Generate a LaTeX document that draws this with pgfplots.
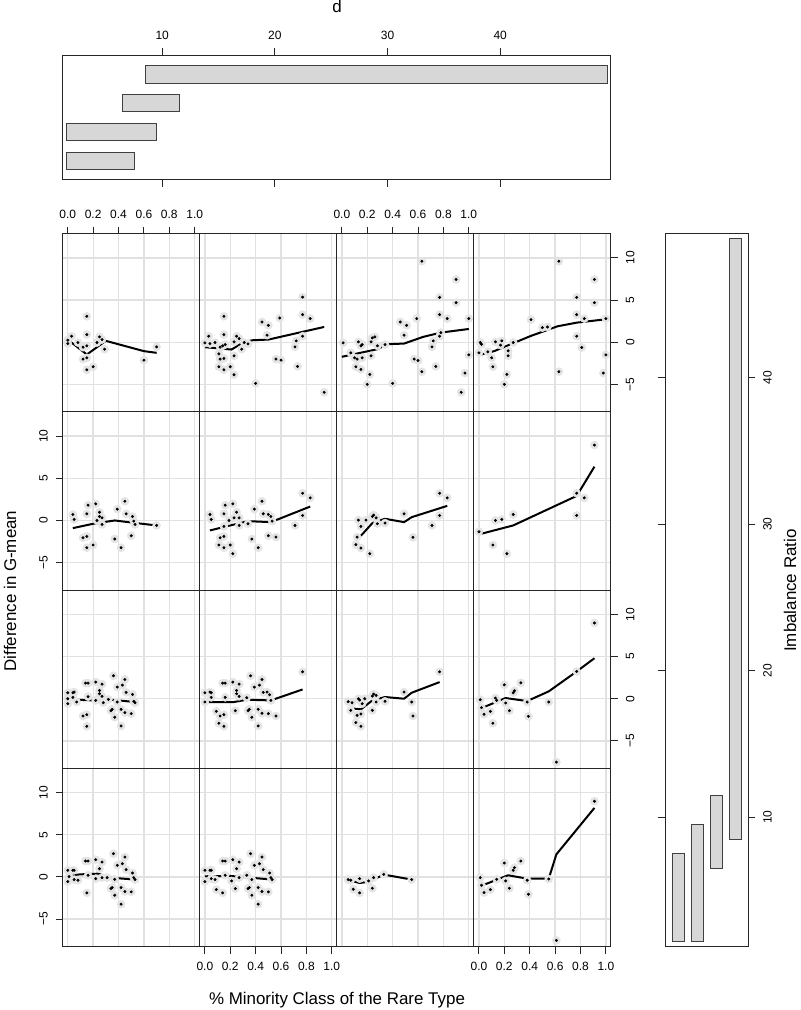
\documentclass[border=0pt]{standalone}
\usepackage{fontspec}
\setmainfont{Liberation Sans}
\usepackage{pgfplots}
\usepackage{pgfplotstable}
\pgfplotsset{compat=1.18}

\definecolor{barfill}{RGB}{215,215,215}
\definecolor{halo}{RGB}{228,228,228}
\definecolor{gridc}{RGB}{225,225,225}

% points, rows A (top) to D (bottom), columns a (left) to d (right)
\pgfplotstableread{
x y
0.03 0.71
0.00 0.24
0.00 -0.16
0.08 -0.04
0.12 -0.59
0.15 3.07
0.15 0.90
0.15 -0.43
0.12 -2.00
0.15 -1.85
0.15 -3.27
0.20 -2.91
0.23 -0.04
0.25 0.63
0.27 0.31
0.29 -0.83
0.60 -2.13
0.70 -0.55
}\pAa
\pgfplotstableread{
x y
0 0.31
0.15 -1.46
0.30 0.16
0.60 -1.06
0.70 -1.26
}\lAa
\pgfplotstableread{
x y
0.00 -0.08
0.03 0.71
0.08 -0.04
0.04 -0.16
0.15 3.07
0.15 0.90
0.12 -0.59
0.14 -0.43
0.16 -0.28
0.11 -1.38
0.12 -2.00
0.15 -1.93
0.11 -2.91
0.15 -3.27
0.20 -2.91
0.23 -3.86
0.23 -1.61
0.25 0.71
0.27 0.43
0.23 0.04
0.29 -0.83
0.31 -0.04
0.34 -0.20
0.40 -4.88
0.45 2.40
0.50 2.00
0.49 0.83
0.59 2.87
0.56 -2.00
0.60 -2.13
0.71 -0.55
0.72 0.16
0.77 5.35
0.77 3.27
0.77 0.71
0.83 2.80
0.73 -2.87
0.94 -5.94
}\pAb
\pgfplotstableread{
x y
0 -0.59
0.21 -0.87
0.31 0.04
0.38 0.24
0.50 0.31
0.94 1.81
}\lAb
\pgfplotstableread{
x y
0.01 -0.08
0.07 -1.26
0.10 -1.85
0.12 -2.00
0.11 -2.91
0.13 0.04
0.15 -0.43
0.16 -0.28
0.15 -3.23
0.16 -1.85
0.22 -3.82
0.20 -5.00
0.23 -1.61
0.23 0.04
0.24 0.51
0.26 0.63
0.28 -0.43
0.34 -0.28
0.40 -4.88
0.46 2.40
0.51 2.00
0.49 0.83
0.59 2.80
0.63 9.60
0.57 -2.00
0.60 -2.17
0.63 -3.50
0.71 -0.55
0.72 0.16
0.77 5.31
0.77 3.27
0.77 0.71
0.78 1.14
0.83 2.80
0.74 -2.87
0.90 7.44
0.90 4.69
0.94 -5.94
0.97 -3.66
1.00 2.80
1.00 -1.50
}\pAc
\pgfplotstableread{
x y
0 -1.73
0.12 -1.34
0.28 -0.83
0.36 -0.24
0.49 -0.16
0.64 0.63
0.78 1.14
1.00 1.57
}\lAc
\pgfplotstableread{
x y
0.01 -0.04
0.02 -0.24
0.00 -1.26
0.07 -1.14
0.10 -1.85
0.11 -2.91
0.13 0.04
0.18 0.16
0.17 -0.35
0.23 -1.02
0.23 -1.61
0.22 -3.82
0.20 -5.00
0.27 -0.04
0.41 2.68
0.50 1.73
0.54 1.81
0.63 9.60
0.63 -3.50
0.77 5.31
0.77 3.27
0.77 0.71
0.81 -0.63
0.83 2.80
0.91 7.44
0.91 4.69
0.98 -3.66
1.00 2.80
1.00 -1.50
}\pAd
\pgfplotstableread{
x y
0 -1.54
0.12 -1.06
0.25 -0.24
0.41 0.75
0.62 1.89
0.77 2.32
1.00 2.72
}\lAd
\pgfplotstableread{
x y
0.04 0.71
0.05 0.12
0.12 -2.05
0.15 -1.89
0.16 1.81
0.15 0.79
0.15 -3.23
0.20 -2.91
0.22 1.97
0.23 0
0.25 0.98
0.25 0.47
0.27 0.31
0.27 -0.47
0.37 -2.20
0.39 1.34
0.42 -3.23
0.45 2.28
0.46 0.79
0.50 -1.81
0.51 0.47
0.52 -0.08
0.53 -0.47
0.70 -0.59
}\pBa
\pgfplotstableread{
x y
0.04 -0.91
0.20 -0.39
0.37 0
0.52 -0.28
0.70 -0.59
}\lBa
\pgfplotstableread{
x y
0.04 0.71
0.05 0.12
0.12 -2.05
0.15 -1.89
0.16 1.81
0.15 0.79
0.15 -3.23
0.11 -2.91
0.20 -2.91
0.22 -3.94
0.22 1.97
0.19 0
0.25 0.98
0.23 0.31
0.27 0.31
0.15 -0.71
0.27 -0.59
0.34 -0.39
0.37 -2.20
0.39 1.34
0.42 -3.23
0.45 2.28
0.46 0.79
0.50 -1.81
0.50 0.71
0.52 0.47
0.53 -0.08
0.56 -1.97
0.71 -0.59
0.77 3.23
0.83 2.68
0.77 0.59
}\pBb
\pgfplotstableread{
x y
0.04 -1.18
0.20 -0.59
0.34 -0.08
0.52 -0.20
0.83 1.65
}\lBb
\pgfplotstableread{
x y
0.11 -2.87
0.13 0.04
0.15 -0.71
0.15 -3.27
0.12 -1.97
0.19 0.04
0.22 -3.94
0.24 0.47
0.25 0.63
0.27 0.31
0.28 -0.39
0.34 -0.31
0.49 0.79
0.56 -2.00
0.71 -0.59
0.77 3.23
0.83 2.68
0.77 0.59
}\pBc
\pgfplotstableread{
x y
0.11 -2.28
0.16 -1.65
0.24 -0.31
0.34 0.20
0.49 -0.20
0.55 0.39
0.83 1.73
}\lBc
\pgfplotstableread{
x y
0.00 -1.34
0.11 -2.91
0.13 0
0.18 0.12
0.22 -3.94
0.27 0.71
0.77 3.23
0.83 2.68
0.77 0.59
0.91 8.94
}\pBd
\pgfplotstableread{
x y
0 -1.65
0.27 -0.59
0.77 2.91
0.91 6.38
}\lBd
\pgfplotstableread{
x y
0.00 0.71
0.04 0.71
0.05 0.79
0.00 0
0.00 -0.59
0.04 0.16
0.07 -0.39
0.12 -2.05
0.15 -1.89
0.15 -3.27
0.14 1.85
0.16 1.85
0.16 0.24
0.22 1.97
0.22 -0.20
0.25 0.98
0.25 0.59
0.27 1.73
0.27 0.28
0.28 -0.47
0.32 -0.08
0.34 -1.42
0.35 -1.26
0.36 2.72
0.37 -2.20
0.39 -0.39
0.39 1.38
0.42 -3.23
0.42 -1.26
0.43 1.61
0.45 2.28
0.45 -1.65
0.46 0.75
0.50 -1.77
0.51 0.51
0.52 -0.31
0.53 -0.47
}\pCa
\pgfplotstableread{
x y
0 -0.08
0.20 -0.20
0.31 -0.08
0.53 -0.39
}\lCa
\pgfplotstableread{
x y
0.00 0.71
0.04 0.79
0.05 0.71
0.00 -0.39
0.05 0.16
0.09 -1.50
0.12 -2.05
0.15 -1.89
0.11 -2.91
0.15 -3.27
0.14 1.85
0.16 1.85
0.16 0.16
0.22 1.97
0.24 -1.42
0.25 0.98
0.25 0.59
0.27 1.73
0.27 0.28
0.33 0.12
0.34 -1.42
0.35 -1.26
0.36 2.72
0.37 -2.20
0.39 1.38
0.42 -3.23
0.42 -1.26
0.43 1.61
0.45 2.28
0.45 -1.73
0.46 0.75
0.50 -1.77
0.49 0.79
0.51 0.47
0.52 -0.20
0.56 -2.05
0.77 3.19
}\pCb
\pgfplotstableread{
x y
0 -0.39
0.23 -0.39
0.33 -0.12
0.52 -0.20
0.77 1.10
}\lCb
\pgfplotstableread{
x y
0.05 -0.35
0.08 -0.47
0.13 0
0.14 -0.16
0.16 -0.59
0.18 0
0.07 -1.38
0.12 -1.97
0.15 -1.81
0.11 -2.83
0.15 -3.27
0.24 0.31
0.25 0.55
0.27 0.39
0.27 -0.39
0.24 -1.38
0.34 -0.31
0.49 0.79
0.55 -0.39
0.56 -2.05
0.77 3.19
}\pCc
\pgfplotstableread{
x y
0.05 -1.10
0.15 -1.26
0.24 -0.20
0.34 0.20
0.49 0
0.55 0.71
0.77 1.97
}\lCc
\pgfplotstableread{
x y
0.01 -0.12
0.02 -1.06
0.04 -1.85
0.09 -1.50
0.11 -2.91
0.13 0.08
0.14 -0.20
0.20 1.65
0.21 -0.51
0.24 -1.42
0.27 0.71
0.28 0.94
0.33 1.89
0.38 -0.39
0.39 -2.09
0.55 -0.39
0.61 -7.52
0.77 3.23
0.91 8.98
}\pCd
\pgfplotstableread{
x y
0.01 -1.18
0.21 0.08
0.38 -0.28
0.55 0.87
0.77 3.23
0.91 4.80
}\lCd
\pgfplotstableread{
x y
0.00 0.79
0.00 -0.55
0.04 0.79
0.05 0.79
0.01 0.04
0.05 -0.31
0.08 -0.39
0.14 1.89
0.16 1.89
0.15 -1.89
0.16 0.20
0.22 2.05
0.22 -0.20
0.25 0.98
0.27 1.77
0.27 -0.08
0.31 -0.08
0.34 -1.38
0.35 -1.26
0.36 2.76
0.37 -2.17
0.37 -0.28
0.39 1.38
0.42 -3.23
0.42 -1.26
0.43 1.57
0.45 2.36
0.45 -1.73
0.46 0.87
0.50 -1.77
0.51 0.47
0.52 -0.08
0.53 -0.31
}\pDa
\pgfplotstableread{
x y
0 0.16
0.10 0.31
0.24 0.39
0.33 -0.08
0.53 -0.31
}\lDa
\pgfplotstableread{
x y
0.00 0.79
0.00 -0.55
0.04 0.79
0.05 0.79
0.05 -0.20
0.08 -0.31
0.09 -1.50
0.14 1.89
0.16 1.89
0.14 -1.89
0.16 0.20
0.22 2.05
0.21 -0.47
0.24 -1.38
0.25 0.98
0.27 1.77
0.27 -0.08
0.33 0.20
0.34 -1.38
0.35 -1.26
0.36 2.76
0.37 -2.17
0.37 -0.31
0.39 1.38
0.42 -3.23
0.42 -1.26
0.43 1.57
0.45 2.36
0.45 -1.73
0.46 0.87
0.50 -1.77
0.51 0.47
0.52 -0.08
0.53 -0.31
}\pDb
\pgfplotstableread{
x y
0 0.08
0.20 0.12
0.53 -0.31
}\lDb
\pgfplotstableread{
x y
0.05 -0.31
0.07 -0.39
0.09 -1.46
0.14 -0.20
0.14 -1.89
0.21 -0.47
0.24 -1.34
0.25 -0.08
0.33 0.31
0.55 -0.31
}\pDc
\pgfplotstableread{
x y
0.05 -0.39
0.14 -0.71
0.21 -0.59
0.33 0.28
0.55 -0.31
}\lDc
\pgfplotstableread{
x y
0.01 -0.08
0.02 -0.98
0.04 -1.85
0.09 -1.50
0.14 -0.28
0.20 1.65
0.21 -0.47
0.24 -1.34
0.27 0.79
0.28 1.10
0.33 1.89
0.38 -0.39
0.39 -2.05
0.55 -0.24
0.61 -7.52
0.91 8.98
}\pDd
\pgfplotstableread{
x y
0.01 -1.10
0.23 0.20
0.38 -0.20
0.55 -0.20
0.61 2.68
0.91 8.19
}\lDd

\pgfplotsset{
  every axis/.append style={
    scale only axis, anchor=south west,
    axis line style={black!85, line width=0.75pt},
    tick style={black!85, line width=0.75pt},
    major tick length=5.25pt, tick align=outside,
    ticklabel style={font=\fontsize{9}{10}\selectfont},
  },
  panel/.style={
    width=102.8pt, height=133.69pt,
    xmin=-0.04, xmax=1.04, ymin=-8.27, ymax=12.87,
    xtick={0,0.2,0.4,0.6,0.8,1}, ytick={-5,0,5,10},
    xticklabels={0.0,0.2,0.4,0.6,0.8,1.0}, yticklabels={−5,0,5,10},
    grid=major, major grid style={gridc, line width=1pt},
    xtick pos=left, ytick pos=left,
    xticklabel shift=2.5pt, yticklabel shift=2.5pt,
  },
  lefty/.style={yticklabel style={rotate=90, anchor=south}},
  nox/.style={xticklabels={}, xtick style={draw=none}},
  noy/.style={yticklabels={}, ytick style={draw=none}},
  topx/.style={xtick pos=right, xticklabel pos=right},
  righty/.style={ytick pos=right, yticklabel pos=right, yticklabel style={rotate=90, anchor=north}},
  halopts/.style={only marks, mark=*, mark size=3pt, mark options={fill=halo, draw=halo}},
  dotpts/.style={only marks, mark=*, mark size=0.9pt, black},
  smooth line/.style={black, line width=1.5pt, line join=round},
}

\begin{document}
\begin{tikzpicture}
\useasboundingbox (0,0) rectangle (600pt,757.5pt);

% given panel d (top)
\begin{axis}[at={(47.03pt,622.7pt)}, width=411.2pt, height=93.5pt,
  xmin=1.17, xmax=49.83, ymin=0.345, ymax=4.67,
  xtick={10,20,30,40}, xticklabels={10,20,30,40}, ytick=\empty,
  xtick pos=both, xticklabel pos=right, xticklabel shift=2.5pt]
\addplot[fill=barfill, draw=black!75, line width=0.75pt] coordinates {(1.5,0.70) (7.5,0.70) (7.5,1.30) (1.5,1.30)} -- cycle;
\addplot[fill=barfill, draw=black!75, line width=0.75pt] coordinates {(1.5,1.70) (9.5,1.70) (9.5,2.30) (1.5,2.30)} -- cycle;
\addplot[fill=barfill, draw=black!75, line width=0.75pt] coordinates {(6.5,2.70) (11.5,2.70) (11.5,3.30) (6.5,3.30)} -- cycle;
\addplot[fill=barfill, draw=black!75, line width=0.75pt] coordinates {(8.5,3.70) (49.5,3.70) (49.5,4.30) (8.5,4.30)} -- cycle;
\end{axis}

% given panel Imbalance Ratio (right)
\begin{axis}[at={(498.98pt,47.48pt)}, width=62.25pt, height=534.75pt,
  xmin=0.33, xmax=4.66, ymin=1.17, ymax=49.83,
  ytick={10,20,30,40}, yticklabels={10,20,30,40}, xtick=\empty,
  ytick pos=both, yticklabel pos=right, yticklabel shift=2.5pt,
  yticklabel style={rotate=90, anchor=north}]
\addplot[fill=barfill, draw=black!75, line width=0.75pt] coordinates {(0.69,1.5) (1.31,1.5) (1.31,7.5) (0.69,7.5)} -- cycle;
\addplot[fill=barfill, draw=black!75, line width=0.75pt] coordinates {(1.69,1.5) (2.31,1.5) (2.31,9.5) (1.69,9.5)} -- cycle;
\addplot[fill=barfill, draw=black!75, line width=0.75pt] coordinates {(2.69,6.5) (3.31,6.5) (3.31,11.5) (2.69,11.5)} -- cycle;
\addplot[fill=barfill, draw=black!75, line width=0.75pt] coordinates {(3.69,8.5) (4.31,8.5) (4.31,49.5) (3.69,49.5)} -- cycle;
\end{axis}

% row A (top)
\begin{axis}[panel, at={(47.03pt,448.54pt)}, topx, noy]
\addplot[halopts] table {\pAa};
\addplot[dotpts] table {\pAa};
\addplot[smooth line] table {\lAa};
\end{axis}
\begin{axis}[panel, at={(149.85pt,448.54pt)}, nox, noy]
\addplot[halopts] table {\pAb};
\addplot[dotpts] table {\pAb};
\addplot[smooth line] table {\lAb};
\end{axis}
\begin{axis}[panel, at={(252.6pt,448.54pt)}, topx, noy]
\addplot[halopts] table {\pAc};
\addplot[dotpts] table {\pAc};
\addplot[smooth line] table {\lAc};
\end{axis}
\begin{axis}[panel, at={(355.4pt,448.54pt)}, nox, righty]
\addplot[halopts] table {\pAd};
\addplot[dotpts] table {\pAd};
\addplot[smooth line] table {\lAd};
\end{axis}

% row B
\begin{axis}[panel, at={(47.03pt,314.85pt)}, nox, lefty]
\addplot[halopts] table {\pBa};
\addplot[dotpts] table {\pBa};
\addplot[smooth line] table {\lBa};
\end{axis}
\begin{axis}[panel, at={(149.85pt,314.85pt)}, nox, noy]
\addplot[halopts] table {\pBb};
\addplot[dotpts] table {\pBb};
\addplot[smooth line] table {\lBb};
\end{axis}
\begin{axis}[panel, at={(252.6pt,314.85pt)}, nox, noy]
\addplot[halopts] table {\pBc};
\addplot[dotpts] table {\pBc};
\addplot[smooth line] table {\lBc};
\end{axis}
\begin{axis}[panel, at={(355.4pt,314.85pt)}, nox, noy]
\addplot[halopts] table {\pBd};
\addplot[dotpts] table {\pBd};
\addplot[smooth line] table {\lBd};
\end{axis}

% row C
\begin{axis}[panel, at={(47.03pt,181.16pt)}, nox, noy]
\addplot[halopts] table {\pCa};
\addplot[dotpts] table {\pCa};
\addplot[smooth line] table {\lCa};
\end{axis}
\begin{axis}[panel, at={(149.85pt,181.16pt)}, nox, noy]
\addplot[halopts] table {\pCb};
\addplot[dotpts] table {\pCb};
\addplot[smooth line] table {\lCb};
\end{axis}
\begin{axis}[panel, at={(252.6pt,181.16pt)}, nox, noy]
\addplot[halopts] table {\pCc};
\addplot[dotpts] table {\pCc};
\addplot[smooth line] table {\lCc};
\end{axis}
\begin{axis}[panel, at={(355.4pt,181.16pt)}, nox, righty]
\addplot[halopts] table {\pCd};
\addplot[dotpts] table {\pCd};
\addplot[smooth line] table {\lCd};
\end{axis}

% row D (bottom)
\begin{axis}[panel, at={(47.03pt,47.48pt)}, nox, lefty]
\addplot[halopts] table {\pDa};
\addplot[dotpts] table {\pDa};
\addplot[smooth line] table {\lDa};
\end{axis}
\begin{axis}[panel, at={(149.85pt,47.48pt)}, noy]
\addplot[halopts] table {\pDb};
\addplot[dotpts] table {\pDb};
\addplot[smooth line] table {\lDb};
\end{axis}
\begin{axis}[panel, at={(252.6pt,47.48pt)}, nox, noy]
\addplot[halopts] table {\pDc};
\addplot[dotpts] table {\pDc};
\addplot[smooth line] table {\lDc};
\end{axis}
\begin{axis}[panel, at={(355.4pt,47.48pt)}, noy]
\addplot[halopts] table {\pDd};
\addplot[dotpts] table {\pDd};
\addplot[smooth line] table {\lDd};
\end{axis}

\node[anchor=base, font=\fontsize{12.7}{14}\selectfont] at (252.75pt,748pt) {d};
\node[anchor=base, font=\fontsize{12.7}{14}\selectfont] at (252.75pt,4.5pt) {\% Minority Class of the Rare Type};
\node[rotate=90, font=\fontsize{12.7}{14}\selectfont] at (7.5pt,314.25pt) {Difference in G-mean};
\node[rotate=90, font=\fontsize{12.7}{14}\selectfont] at (592.5pt,314.6pt) {Imbalance Ratio};
\end{tikzpicture}
\end{document}
